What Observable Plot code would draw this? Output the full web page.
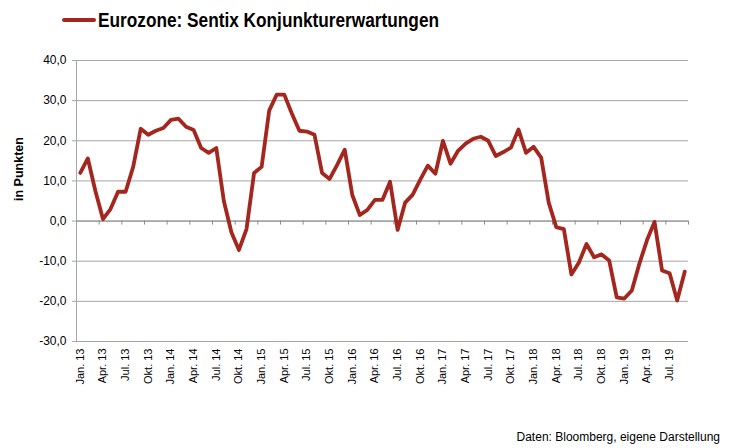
<!DOCTYPE html>
<html>
<head>
<meta charset="utf-8">
<script src="https://cdn.jsdelivr.net/npm/d3@7"></script>
<script src="https://cdn.jsdelivr.net/npm/@observablehq/plot@0.6"></script>
<style>
  body { margin: 0; background: #fff; font-family: "Liberation Sans", Arial, sans-serif; }
  #wrap { position: relative; width: 729px; height: 448px; overflow: hidden; }
  #wrap svg.plot { position: absolute; left: 0; top: 0; }
  #title { position: absolute; left: 62px; top: 6px; height: 28px; white-space: nowrap; display: flex; align-items: center; }
  #title .txt { font-weight: bold; font-size: 21px; color: #000; display: inline-block; transform-origin: left center; }
  #caption { position: absolute; right: 9px; top: 430px; font-size: 12px; color: #000; white-space: nowrap; }
</style>
</head>
<body>
<div id="wrap">
  <div id="title">
    <svg width="34" height="10" style="margin-right:2px"><line x1="2" y1="5" x2="32" y2="5" stroke="#a3261f" stroke-width="4" stroke-linecap="round"/></svg>
    <span class="txt" id="titleTxt">Eurozone: Sentix Konjunkturerwartungen</span>
  </div>
  <div id="caption">Daten: Bloomberg, eigene Darstellung</div>
</div>
<script>
// Monthly values Jan 2013 – Sep 2019
const years = [2013, 2014, 2015, 2016, 2017, 2018, 2019];
const values2013 = [12.0, 15.6, 7.5, 0.5, 3.0, 7.3, 7.3, 13.5, 23.0, 21.5, 22.5, 23.2];
const values2014 = [25.2, 25.5, 23.5, 22.7, 18.2, 17.0, 18.2, 5.0, -2.8, -7.2, -2.0, 12.0];
const values2015 = [13.5, 27.5, 31.5, 31.5, 26.8, 22.5, 22.3, 21.5, 12.0, 10.5, 14.0, 17.8];
const values2016 = [6.5, 1.5, 2.8, 5.3, 5.3, 9.8, -2.2, 4.6, 6.6, 10.3, 13.8, 11.8];
const values2017 = [20.0, 14.3, 17.5, 19.3, 20.5, 21.0, 20.0, 16.2, 17.2, 18.3, 22.8, 17.0];
const values2018 = [18.5, 15.8, 4.6, -1.5, -2.0, -13.3, -10.3, -5.7, -9.0, -8.3, -9.8, -19.0];
const values2019 = [-19.3, -17.3, -10.6, -4.8, -0.2, -12.3, -13.0, -19.8, -12.6];

const xLabels = ["Jan. 13","Apr. 13","Jul. 13","Okt. 13","Jan. 14","Apr. 14","Jul. 14","Okt. 14",
  "Jan. 15","Apr. 15","Jul. 15","Okt. 15","Jan. 16","Apr. 16","Jul. 16","Okt. 16",
  "Jan. 17","Apr. 17","Jul. 17","Okt. 17","Jan. 18","Apr. 18","Jul. 18","Okt. 18",
  "Jan. 19","Apr. 19","Jul. 19"];
const yTicks = [-30, -20, -10, 0, 10, 20, 30, 40];

const values = [...values2013, ...values2014, ...values2015, ...values2016, ...values2017, ...values2018, ...values2019];
const data = values.map((v, i) => ({i, v}));
const labelIdx = xLabels.map((_, k) => k * 3);
const sepIdx = xLabels.map((_, k) => k * 3 + 2.5);

const grid = "#a6a6a6";
const plot = Plot.plot({
  width: 729,
  height: 448,
  marginLeft: 76,
  marginRight: 41,
  marginTop: 60,
  marginBottom: 107,
  style: {fontFamily: "'Liberation Sans', Arial, sans-serif", background: "transparent", color: "#000"},
  x: {domain: [-0.5, values.length - 0.5]},
  y: {domain: [-30, 40]},
  marks: [
    Plot.ruleY(yTicks, {stroke: grid, strokeWidth: 1}),
    Plot.ruleX([-0.5], {stroke: grid, strokeWidth: 1}),
    Plot.ruleY([0], {stroke: "#8c8c8c", strokeWidth: 1}),
    Plot.ruleX(sepIdx, {x: d => d, y1: 0, y2: -1, stroke: "#8c8c8c", strokeWidth: 1}),
    Plot.axisY({ticks: yTicks, tickFormat: d => d.toFixed(1).replace(".", ","), tickSize: 4, tickPadding: 6,
      fontSize: 12, stroke: grid, label: null}),
    Plot.axisX({ticks: labelIdx, tickFormat: i => xLabels[i / 3], tickRotate: -90, tickSize: 0, tickPadding: 7,
      fontSize: 11, label: null}),
    Plot.text(["in Punkten"], {frameAnchor: "left", dx: -58, rotate: -90, fontSize: 12.5, fontWeight: "bold", fill: "#000"}),
    Plot.lineY(data, {x: "i", y: "v", stroke: "#a3261f", strokeWidth: 3.8, strokeLinejoin: "round", strokeLinecap: "round"})
  ]
});
plot.classList.add("plot");
const wrap = document.getElementById("wrap");
wrap.insertBefore(plot, wrap.firstChild);

// fit title width to reference (~341px)
const t = document.getElementById("titleTxt");
const w = t.getBoundingClientRect().width;
t.style.transform = `scaleX(${341 / w})`;
</script>
</body>
</html>
